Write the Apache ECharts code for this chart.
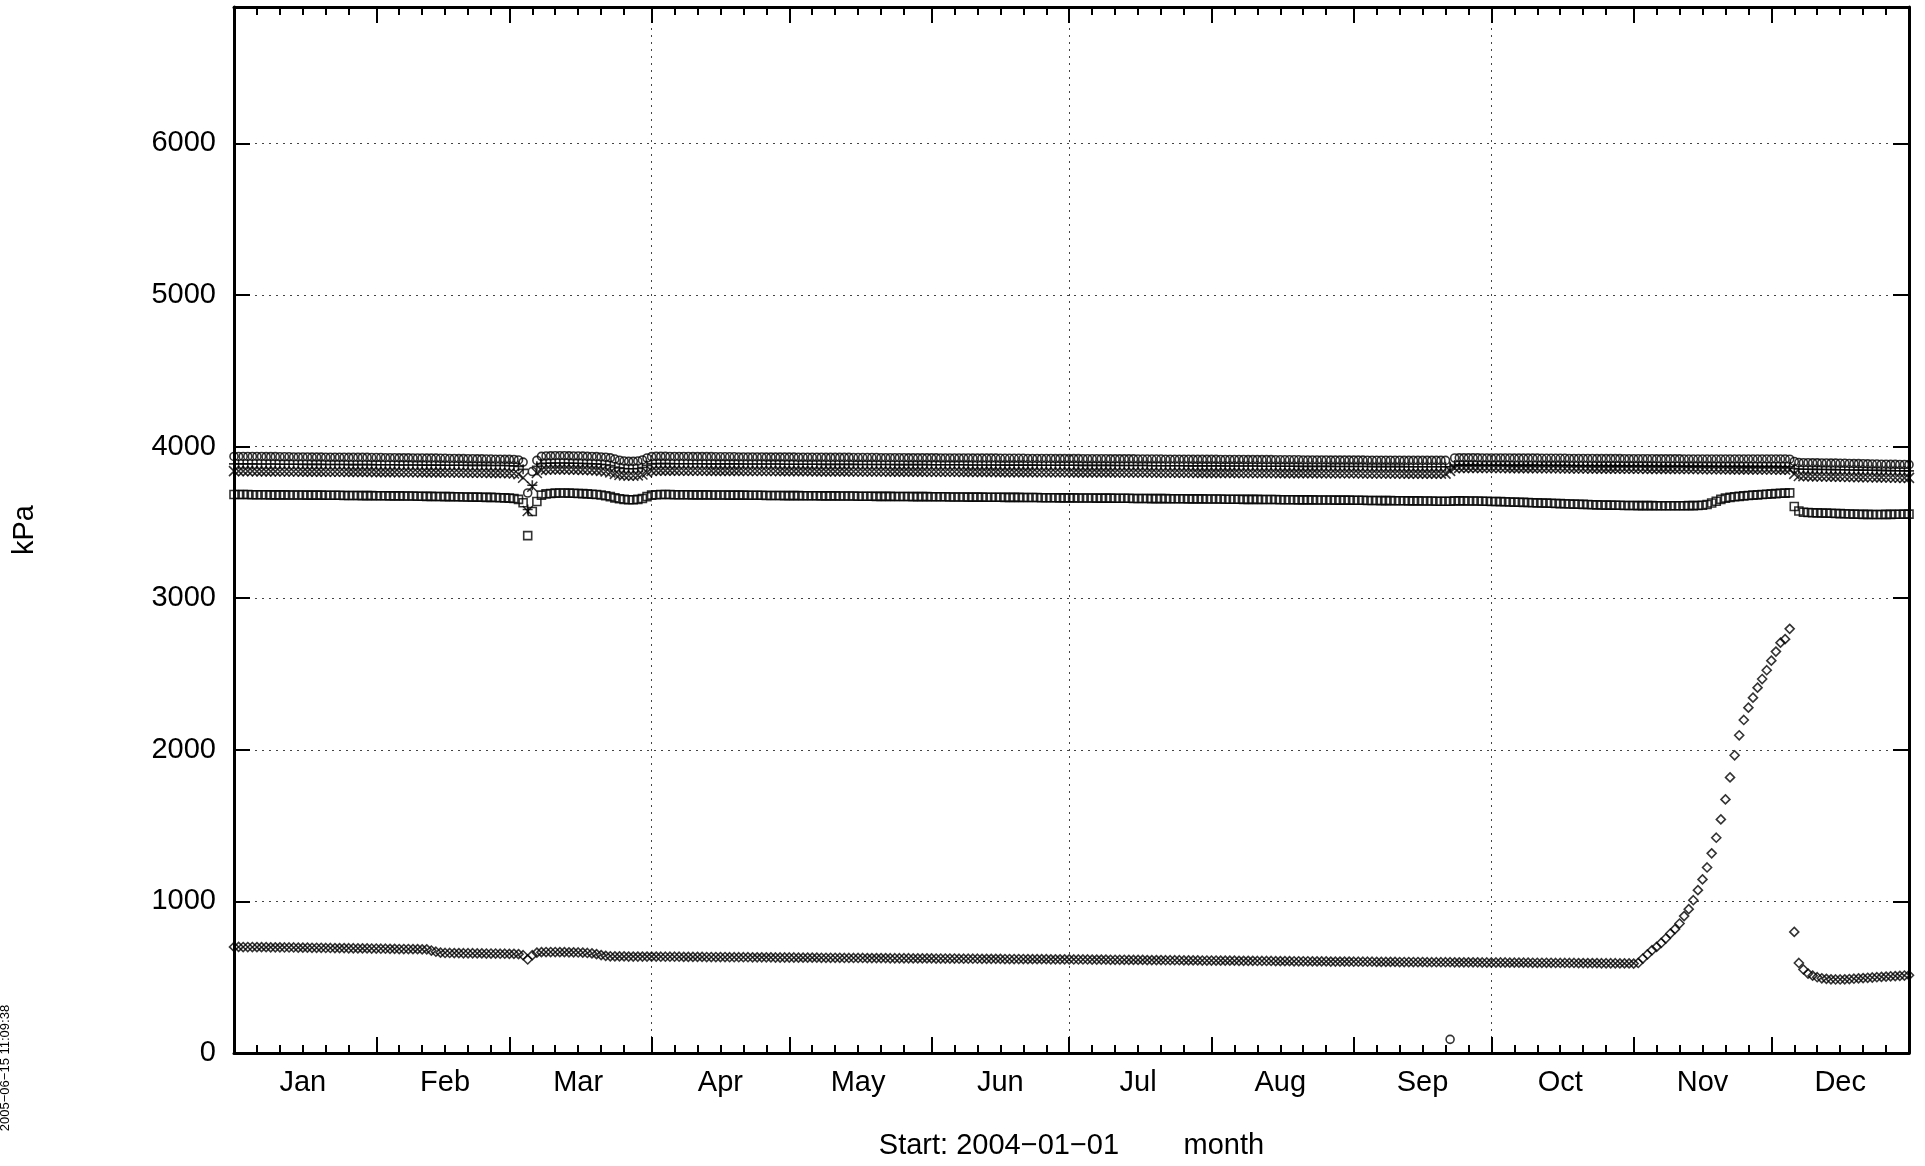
<!DOCTYPE html>
<html>
<head>
<meta charset="utf-8">
<script src="https://cdn.jsdelivr.net/npm/echarts@6/dist/echarts.min.js"></script>
<style>
html,body{margin:0;padding:0;background:#fff;}
#chart{width:1925px;height:1166px;}
</style>
</head>
<body>
<div id="chart"></div>
<script>
// ---------- data (daily values, 2004-01-01 .. 2004-12-31) ----------
const monthNames = ['Jan','Feb','Mar','Apr','May','Jun','Jul','Aug','Sep','Oct','Nov','Dec'];
const monthStartDays = [0,31,60,91,121,152,182,213,244,274,305,335];
const monthLabelDays = [15,46,75,106,136,167,197,228,259,289,320,350];
const minorTickOffsets = [5,10,15,20,25];
const gridDays = [91,182,274];
const yTicks = [0,1000,2000,3000,4000,5000,6000];

const circleVals = [
// Jan
3935,3935,3935,3935,3935,3935,3935,3934,3934,3934,3933,3933,3933,3932,3932,3932,3932,3931,3931,3931,3930,3930,3930,3930,3930,3929,3929,3929,3929,3929,3928,
// Feb
3928,3928,3927,3927,3927,3926,3926,3926,3925,3925,3925,3924,3924,3924,3923,3923,3922,3922,3921,3921,3920,3920,3919,3919,3918,3918,3917,3917,3916,
// Mar
3916,3915,3912,3898,3694,3836,3909,3936,3938,3939,3940,3940,3940,3939,3938,3938,3937,3936,3935,3934,3932,3930,3926,3918,3910,3905,3903,3903,3905,3912,3925,
// Apr
3934,3936,3936,3936,3935,3935,3935,3935,3935,3934,3934,3934,3934,3934,3933,3933,3933,3933,3933,3932,3932,3932,3932,3932,3932,3931,3931,3931,3931,3931,
// May
3931,3931,3930,3930,3930,3930,3930,3930,3929,3929,3929,3929,3929,3929,3928,3928,3928,3928,3928,3928,3927,3927,3927,3927,3927,3927,3926,3926,3926,3926,3926,
// Jun
3926,3926,3925,3925,3925,3925,3925,3925,3925,3924,3924,3924,3924,3924,3924,3923,3923,3923,3923,3923,3923,3922,3922,3922,3922,3922,3922,3921,3921,3921,
// Jul
3921,3921,3921,3920,3920,3920,3920,3920,3920,3919,3919,3919,3919,3919,3919,3918,3918,3918,3918,3918,3918,3917,3917,3917,3917,3917,3917,3916,3916,3916,3916,
// Aug
3916,3916,3915,3915,3915,3915,3915,3915,3914,3914,3914,3914,3914,3914,3913,3913,3913,3913,3913,3913,3912,3912,3912,3912,3912,3912,3911,3911,3911,3911,3911,
// Sep
3911,3911,3911,3910,3910,3910,3910,3910,3910,3910,3910,3909,3909,3909,3909,3909,3909,3909,3909,3909,3909,90,3925,3926,3926,3926,3926,3926,3925,3925,
// Oct
3925,3925,3925,3925,3925,3924,3924,3924,3924,3924,3924,3923,3923,3923,3923,3923,3923,3922,3922,3922,3922,3922,3922,3921,3921,3921,3921,3921,3921,3920,3920,
// Nov
3920,3920,3920,3920,3920,3919,3919,3919,3919,3919,3919,3918,3918,3918,3918,3918,3918,3918,3918,3918,3918,3918,3918,3918,3918,3918,3918,3918,3918,3918,
// Dec
3918,3918,3918,3918,3917,3902,3895,3894,3894,3893,3893,3892,3892,3891,3891,3890,3890,3889,3888,3888,3887,3886,3885,3885,3884,3884,3883,3883,3882,3882,3881
];

const plusVals = [
// Jan
3886,3886,3886,3886,3886,3885,3885,3885,3885,3885,3884,3884,3884,3884,3884,3883,3883,3883,3883,3883,3882,3882,3882,3882,3882,3881,3881,3881,3881,3881,3881,
// Feb
3880,3880,3880,3880,3880,3879,3879,3879,3879,3879,3878,3878,3878,3878,3878,3877,3877,3877,3877,3877,3876,3876,3876,3876,3876,3875,3875,3875,3875,
// Mar
3874,3873,3870,3850,3585,3745,3870,3888,3890,3891,3892,3892,3892,3891,3890,3890,3889,3888,3887,3886,3884,3880,3875,3866,3860,3856,3854,3854,3856,3862,3876,
// Apr
3886,3888,3888,3888,3888,3887,3887,3887,3887,3887,3887,3887,3886,3886,3886,3886,3886,3886,3886,3886,3885,3885,3885,3885,3885,3885,3885,3885,3885,3884,
// May
3884,3884,3884,3884,3884,3884,3884,3883,3883,3883,3883,3883,3883,3883,3883,3882,3882,3882,3882,3882,3882,3882,3882,3881,3881,3881,3881,3881,3881,3881,3881,
// Jun
3880,3880,3880,3880,3880,3880,3880,3880,3879,3879,3879,3879,3879,3879,3879,3879,3878,3878,3878,3878,3878,3878,3878,3878,3877,3877,3877,3877,3877,3877,
// Jul
3877,3877,3876,3876,3876,3876,3876,3876,3876,3876,3875,3875,3875,3875,3875,3875,3875,3875,3874,3874,3874,3874,3874,3874,3874,3874,3873,3873,3873,3873,3873,
// Aug
3873,3873,3873,3872,3872,3872,3872,3872,3872,3872,3872,3871,3871,3871,3871,3871,3871,3871,3871,3870,3870,3870,3870,3870,3870,3870,3870,3869,3869,3869,3869,
// Sep
3869,3869,3869,3869,3868,3868,3868,3868,3868,3868,3868,3868,3867,3867,3867,3867,3867,3867,3867,3867,3867,3867,3878,3878,3878,3878,3878,3877,3877,3877,
// Oct
3877,3877,3877,3877,3876,3876,3876,3876,3876,3876,3876,3875,3875,3875,3875,3875,3875,3875,3874,3874,3874,3874,3874,3874,3874,3873,3873,3873,3873,3873,3873,
// Nov
3872,3872,3872,3872,3872,3872,3871,3871,3871,3871,3871,3871,3870,3870,3870,3870,3870,3870,3869,3869,3869,3869,3869,3869,3868,3868,3868,3868,3868,3868,
// Dec
3868,3868,3867,3867,3867,3856,3852,3851,3851,3850,3850,3849,3849,3848,3848,3847,3847,3846,3846,3845,3845,3844,3844,3843,3843,3842,3842,3841,3841,3840,3840
];

const crossVals = [
// Jan
3838,3838,3838,3838,3838,3837,3837,3837,3837,3837,3836,3836,3836,3836,3836,3835,3835,3835,3835,3835,3834,3834,3834,3834,3834,3833,3833,3833,3833,3833,3833,
// Feb
3832,3832,3832,3832,3832,3831,3831,3831,3831,3831,3830,3830,3830,3830,3830,3829,3829,3829,3829,3829,3828,3828,3828,3828,3828,3827,3827,3827,3826,
// Mar
3825,3823,3818,3795,3575,3735,3826,3845,3848,3849,3850,3850,3850,3849,3848,3848,3847,3846,3845,3843,3840,3836,3830,3820,3814,3810,3808,3808,3810,3816,3830,
// Apr
3840,3842,3842,3842,3842,3842,3841,3841,3841,3841,3841,3841,3841,3840,3840,3840,3840,3840,3840,3840,3839,3839,3839,3839,3839,3839,3839,3839,3838,3838,
// May
3838,3838,3838,3838,3838,3838,3837,3837,3837,3837,3837,3837,3837,3837,3836,3836,3836,3836,3836,3836,3836,3836,3835,3835,3835,3835,3835,3835,3835,3835,3834,
// Jun
3834,3834,3834,3834,3834,3834,3834,3833,3833,3833,3833,3833,3833,3833,3833,3832,3832,3832,3832,3832,3832,3832,3832,3831,3831,3831,3831,3831,3831,3831,
// Jul
3831,3830,3830,3830,3830,3830,3830,3830,3830,3830,3829,3829,3829,3829,3829,3829,3829,3829,3829,3828,3828,3828,3828,3828,3828,3828,3828,3828,3827,3827,3827,
// Aug
3827,3827,3827,3827,3827,3827,3826,3826,3826,3826,3826,3826,3826,3826,3826,3825,3825,3825,3825,3825,3825,3825,3825,3825,3824,3824,3824,3824,3824,3824,3824,
// Sep
3824,3824,3823,3823,3823,3823,3823,3823,3823,3823,3823,3822,3822,3822,3822,3822,3822,3822,3822,3822,3822,3840,3858,3860,3860,3860,3860,3860,3859,3859,
// Oct
3859,3859,3859,3859,3858,3858,3858,3858,3858,3858,3857,3857,3857,3857,3857,3857,3856,3856,3856,3856,3856,3856,3855,3855,3855,3855,3855,3855,3854,3854,3854,
// Nov
3854,3854,3854,3853,3853,3853,3853,3853,3853,3852,3852,3852,3852,3852,3852,3851,3851,3851,3851,3851,3851,3850,3850,3850,3850,3850,3850,3849,3849,3849,
// Dec
3849,3849,3848,3848,3848,3820,3806,3805,3805,3804,3804,3803,3803,3802,3802,3801,3801,3800,3800,3799,3799,3798,3798,3797,3797,3796,3796,3795,3795,3794,3794
];

const squareVals = [
// Jan
3684,3684,3684,3684,3683,3683,3683,3683,3682,3682,3682,3682,3681,3681,3681,3681,3680,3680,3680,3680,3679,3679,3679,3679,3678,3678,3678,3678,3677,3677,3677,
// Feb
3676,3676,3676,3675,3675,3675,3674,3674,3674,3673,3673,3672,3672,3671,3671,3670,3670,3669,3669,3668,3668,3667,3667,3666,3665,3665,3664,3663,3662,
// Mar
3660,3658,3652,3630,3413,3572,3638,3680,3688,3691,3693,3694,3694,3693,3692,3691,3690,3688,3686,3684,3681,3676,3670,3662,3656,3652,3650,3650,3652,3658,3670,
// Apr
3680,3683,3684,3684,3684,3683,3683,3683,3683,3682,3682,3682,3682,3681,3681,3681,3681,3680,3680,3680,3680,3679,3679,3679,3679,3678,3678,3678,3678,3677,
// May
3677,3677,3677,3676,3676,3676,3676,3675,3675,3675,3675,3674,3674,3674,3674,3673,3673,3673,3673,3672,3672,3672,3672,3671,3671,3671,3671,3670,3670,3670,3670,
// Jun
3669,3669,3669,3669,3668,3668,3668,3668,3667,3667,3667,3667,3666,3666,3666,3666,3665,3665,3665,3665,3664,3664,3664,3664,3663,3663,3663,3663,3662,3662,
// Jul
3662,3662,3661,3661,3661,3661,3660,3660,3660,3660,3659,3659,3659,3659,3658,3658,3658,3658,3657,3657,3657,3657,3656,3656,3656,3656,3655,3655,3655,3655,3654,
// Aug
3654,3654,3654,3653,3653,3653,3653,3652,3652,3652,3652,3651,3651,3651,3651,3650,3650,3650,3650,3649,3649,3649,3649,3648,3648,3648,3648,3647,3647,3647,3647,
// Sep
3646,3646,3646,3645,3645,3645,3644,3644,3644,3643,3643,3643,3642,3642,3642,3641,3641,3641,3640,3640,3640,3640,3642,3642,3642,3641,3641,3641,3640,3640,
// Oct
3638,3638,3637,3636,3635,3634,3633,3632,3631,3630,3629,3628,3627,3626,3625,3624,3623,3622,3621,3620,3619,3618,3617,3616,3615,3614,3614,3613,3613,3612,3612,
// Nov
3612,3611,3611,3611,3611,3610,3610,3610,3610,3610,3610,3610,3611,3611,3612,3613,3618,3628,3640,3652,3660,3665,3669,3672,3675,3678,3680,3682,3684,3686,
// Dec
3688,3690,3692,3693,3695,3605,3575,3567,3565,3564,3563,3562,3561,3560,3559,3558,3557,3556,3555,3554,3553,3553,3552,3552,3552,3553,3553,3554,3554,3555,3555
];

const diamondVals = [
// Jan
700,700,699,699,699,698,698,698,697,697,697,696,696,696,695,695,695,694,694,694,693,693,692,692,692,691,691,690,690,690,689,
// Feb
689,688,688,687,687,686,686,686,685,685,684,684,676,668,662,660,660,659,659,658,658,658,657,657,656,656,656,655,655,
// Mar
654,654,652,645,617,645,662,665,666,666,666,665,665,664,664,663,662,660,657,652,646,641,638,637,637,637,636,636,636,636,636,
// Apr
636,636,635,635,635,635,635,634,634,634,634,634,633,633,633,633,633,632,632,632,632,632,631,631,631,631,631,630,630,630,
// May
630,630,629,629,629,629,629,628,628,628,628,628,627,627,627,627,627,626,626,626,626,626,625,625,625,625,625,624,624,624,624,
// Jun
624,623,623,623,623,623,622,622,622,622,622,621,621,621,621,621,620,620,620,620,620,619,619,619,619,619,618,618,618,618,
// Jul
618,617,617,617,617,616,616,616,616,615,615,615,615,614,614,614,614,613,613,613,613,612,612,612,612,611,611,611,611,610,610,
// Aug
610,610,609,609,609,609,608,608,608,608,607,607,607,607,606,606,606,606,605,605,605,605,604,604,604,604,603,603,603,603,603,
// Sep
602,602,602,602,602,601,601,601,601,601,600,600,600,600,600,600,599,599,599,599,599,599,598,598,598,598,598,598,597,597,
// Oct
597,597,597,597,596,596,596,596,596,595,595,595,595,595,594,594,594,594,594,593,593,593,593,593,592,592,592,592,591,591,591,
// Nov
590,594,623,650,678,700,726,755,788,817,854,903,949,1008,1074,1145,1224,1317,1420,1541,1673,1818,1964,2096,2197,2278,2344,2410,2467,2525,
// Dec
2588,2648,2707,2730,2798,799,594,551,524,510,500,493,489,486,485,485,486,488,490,492,494,496,498,500,502,504,506,507,509,511,513
];

// ---------- build ----------
const seriesData = {circleVals, plusVals, crossVals, squareVals, diamondVals};
for (const k in seriesData) {
  if (seriesData[k].length !== 366) throw new Error(k + ' has ' + seriesData[k].length + ' values');
}
const days = [];
for (let i = 0; i < 366; i++) {
  days.push(new Date(Date.UTC(2004, 0, 1 + i)).toISOString().slice(0, 10));
}
const majorSet = new Set(monthStartDays);
const labelSet = new Set(monthLabelDays);
const gridSet = new Set(gridDays);
const minorSet = new Set();
monthStartDays.forEach(s => minorTickOffsets.forEach(o => minorSet.add(s + o)));

const FONT = 'Liberation Sans';
const axisLineStyle = {color: '#000', width: 3};

function xAxisDef(position, kind) {
  const isMajor = kind === 'major';
  return {
    type: 'category',
    data: days,
    position: position,
    boundaryGap: false,
    axisLine: {show: isMajor, onZero: false, lineStyle: axisLineStyle},
    axisTick: {
      show: true, inside: true, length: isMajor ? 16 : 8,
      interval: isMajor ? (i => majorSet.has(i)) : (i => minorSet.has(i)),
      lineStyle: {color: '#000', width: 2}
    },
    axisLabel: {show: false},
    splitLine: {show: false}
  };
}

const xMain = xAxisDef('bottom', 'major');
xMain.axisLabel = {
  show: true,
  interval: i => labelSet.has(i),
  formatter: (v, i) => monthNames[monthLabelDays.indexOf(i)],
  color: '#000', fontFamily: FONT, fontSize: 29, margin: 15
};
xMain.splitLine = {
  show: true,
  interval: i => gridSet.has(i),
  lineStyle: {color: '#444', width: 1, type: [2, 5]}
};
xMain.name = 'Start: 2004\u221201\u221201        month';
xMain.nameLocation = 'middle';
xMain.nameGap = 78;
xMain.nameTextStyle = {color: '#000', fontFamily: FONT, fontSize: 29};

function yAxisDef(position, main) {
  return {
    type: 'value',
    position: position,
    min: 0, max: 6900, interval: 1000,
    axisLine: {show: true, onZero: false, lineStyle: axisLineStyle},
    axisTick: {show: true, inside: true, length: 16, lineStyle: {color: '#000', width: 2}},
    axisLabel: main ? {
      show: true, color: '#000', fontFamily: FONT, fontSize: 29, margin: 18,
      showMaxLabel: false,
      formatter: v => (yTicks.indexOf(v) >= 0 ? String(v) : '')
    } : {show: false},
    splitLine: main ? {show: true, lineStyle: {color: '#444', width: 1, type: [2, 5]}} : {show: false},
    name: main ? 'kPa' : '',
    nameLocation: 'middle',
    nameGap: 195,
    nameRotate: 90,
    nameTextStyle: {color: '#000', fontFamily: FONT, fontSize: 29}
  };
}

const markerStyle = {color: 'none', borderColor: '#000', borderWidth: 1.6};
function sc(name, data, symbol, size) {
  return {
    name: name, type: 'scatter', xAxisIndex: 0, yAxisIndex: 0,
    data: data, symbol: symbol, symbolSize: size,
    itemStyle: markerStyle, emphasis: {disabled: true}, silent: true, clip: false
  };
}

const chart = echarts.init(document.getElementById('chart'), null, {renderer: 'canvas'});
chart.setOption({
  animation: false,
  backgroundColor: '#fff',
  grid: {left: 234, right: 16, top: 7, bottom: 113, containLabel: false},
  xAxis: [xMain, xAxisDef('bottom', 'minor'), xAxisDef('top', 'major'), xAxisDef('top', 'minor')],
  yAxis: [yAxisDef('left', true), yAxisDef('right', false)],
  series: [
    sc('circle', circleVals, 'circle', 8),
    sc('plus', plusVals, 'path://M5,0L5,10M0,5L10,5', 10),
    sc('cross', crossVals, 'path://M0,0L10,10M10,0L0,10', 10),
    sc('square', squareVals, 'rect', 8),
    sc('diamond', diamondVals, 'diamond', 9)
  ],
  graphic: [{
    type: 'text', x: 5, y: 1068, rotation: Math.PI / 2,
    style: {text: '2005\u221206\u221215 11:09:38', font: '13px "Liberation Sans"', fill: '#000', align: 'center', verticalAlign: 'middle'}
  }]
});
</script>
</body>
</html>
